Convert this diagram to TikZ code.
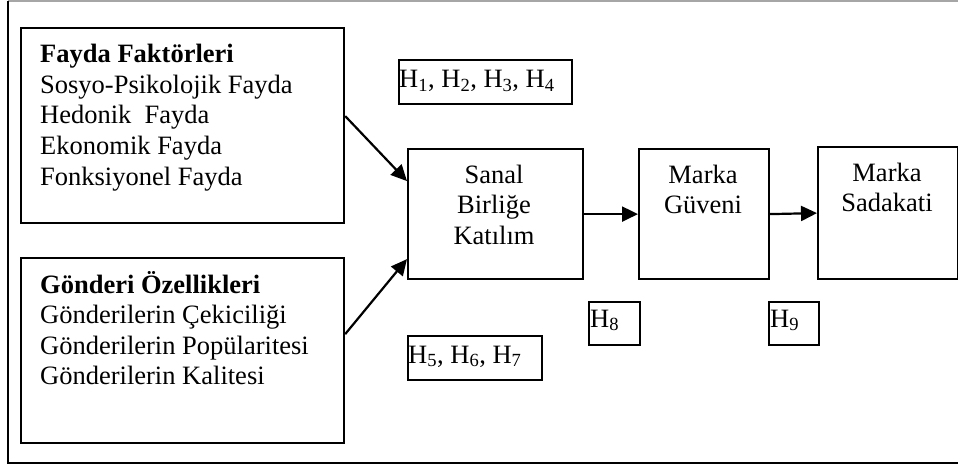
\documentclass[tikz,border=0pt]{standalone}
\usepackage{fontspec}
\setmainfont{Liberation Serif}
\usetikzlibrary{arrows.meta,calc}
\begin{document}
\begin{tikzpicture}[x=1pt,y=-1pt,
  every node/.style={font=\fontsize{26.5}{30.5}\selectfont},
  bigbox/.style={draw,line width=2.2pt,inner sep=0pt,anchor=north west},
  hbox/.style={draw,line width=1.8pt,inner sep=0pt,anchor=north west},
  txt/.style={inner sep=0pt,anchor=base west},
  ctxt/.style={inner sep=0pt,anchor=base},
  conn/.style={line width=2.2pt,-{Triangle[length=16pt,width=15pt]}}]
\useasboundingbox (0,0) rectangle (958,468);
% outer frame (cut at the right)
\draw[gray!70,line width=1.2pt] (8,1) -- (958,1);
\draw[line width=2.2pt] (958,463) -- (8,463) -- (8,1.5);
% boxes
\node[bigbox,minimum width=323pt,minimum height=195pt] (fayda) at (20,27) {};
\node[bigbox,minimum width=323pt,minimum height=185pt] (gonderi) at (20,257) {};
\node[bigbox,minimum width=175pt,minimum height=130pt] (sanal) at (407,148) {};
\node[bigbox,minimum width=130pt,minimum height=130pt] (guven) at (638,148) {};
\node[bigbox,minimum width=140pt,minimum height=132pt] (sadakat) at (817,146) {};
\node[hbox,minimum width=173pt,minimum height=44pt] (h14) at (398,59) {};
\node[hbox,minimum width=134pt,minimum height=44pt] (h57) at (407,335) {};
\node[hbox,minimum width=51pt,minimum height=43pt] (h8) at (588,301) {};
\node[hbox,minimum width=50pt,minimum height=43pt] (h9) at (768,301) {};
% texts
\node[txt] (f0) at (40,63) {\textbf{Fayda Faktörleri}};
\node[txt] (f1) at (40,93.5) {Sosyo-Psikolojik Fayda};
\node[txt] (f2) at (40,124) {Hedonik\ \ Fayda};
\node[txt] (f3) at (40,154.5) {Ekonomik Fayda};
\node[txt] (f4) at (40,185) {Fonksiyonel Fayda};
\node[txt] (g0) at (40,293) {\textbf{Gönderi Özellikleri}};
\node[txt] (g1) at (40,323.5) {Gönderilerin Çekiciliği};
\node[txt] (g2) at (40,354) {Gönderilerin Popülaritesi};
\node[txt] (g3) at (40,384.5) {Gönderilerin Kalitesi};
\node[ctxt] (s0) at (494,183) {Sanal};
\node[ctxt] (s1) at (494,213.5) {Birliğe};
\node[ctxt] (s2) at (494,244) {Katılım};
\node[ctxt] (m0) at (703,183) {Marka};
\node[ctxt] (m1) at (703,213.5) {Güveni};
\node[ctxt] (k0) at (887,181) {Marka};
\node[ctxt] (k1) at (887,211.5) {Sadakati};
\node[txt] (t14) at (399,88) {H\textsubscript{1}, H\textsubscript{2}, H\textsubscript{3}, H\textsubscript{4}};
\node[txt] (t57) at (408,363) {H\textsubscript{5}, H\textsubscript{6}, H\textsubscript{7}};
\node[txt] (t8) at (590,327) {H\textsubscript{8}};
\node[txt] (t9) at (770,327) {H\textsubscript{9}};
% connectors
\draw[conn] ([yshift=9.5pt]fayda.east) -- ([yshift=33pt]sanal.west);
\draw[conn] ([yshift=16.5pt]gonderi.east) -- ([yshift=-45pt]sanal.west);
\draw[conn] (sanal.east) -- (guven.west);
\draw[conn] (guven.east) -- (sadakat.west);
\end{tikzpicture}
\end{document}
